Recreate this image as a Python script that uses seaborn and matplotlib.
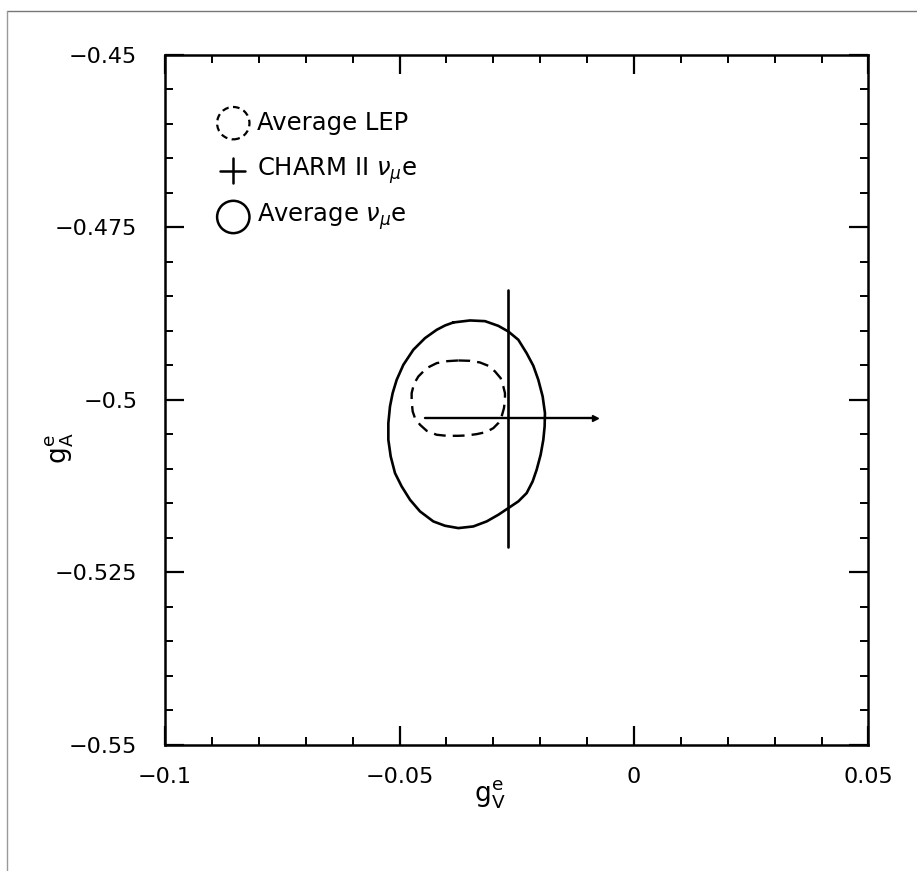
import numpy as np
import pandas as pd
import matplotlib
matplotlib.use("Agg")
import matplotlib.pyplot as plt
import seaborn as sns
from matplotlib.patches import Ellipse
from matplotlib.lines import Line2D

# ---- data ----
# Average nu_mu e contour (solid)
avg_nue_gv = [-0.03852, -0.03497, -0.03177, -0.02893, -0.02679, -0.02466, -0.02289, -0.02146,
              -0.02040, -0.01947, -0.01898, -0.01905, -0.01933, -0.01990, -0.02075, -0.02161,
              -0.02289, -0.02466, -0.02679, -0.02893, -0.03141, -0.03426, -0.03746, -0.04030,
              -0.04279, -0.04563, -0.04776, -0.04954, -0.05096, -0.05188, -0.05238, -0.05238,
              -0.05203, -0.05146, -0.05060, -0.04918, -0.04705, -0.04456, -0.04208, -0.04030]
avg_nue_ga = [-0.48879, -0.48850, -0.48860, -0.48928, -0.49010, -0.49130, -0.49324, -0.49507,
              -0.49710, -0.49952, -0.50193, -0.50386, -0.50580, -0.50797, -0.51014, -0.51184,
              -0.51353, -0.51473, -0.51570, -0.51667, -0.51763, -0.51836, -0.51860, -0.51826,
              -0.51763, -0.51618, -0.51449, -0.51256, -0.51063, -0.50821, -0.50580, -0.50338,
              -0.50097, -0.49903, -0.49710, -0.49493, -0.49275, -0.49106, -0.48986, -0.48923]
# Average LEP contour (dashed)
lep_gv = [-0.03746, -0.03497, -0.03284, -0.03106, -0.02964, -0.02843, -0.02786, -0.02751,
          -0.02751, -0.02772, -0.02822, -0.02893, -0.02999, -0.03156, -0.03355, -0.03568,
          -0.03746, -0.03994, -0.04208, -0.04421, -0.04563, -0.04670, -0.04719, -0.04741,
          -0.04741, -0.04691, -0.04598, -0.04421, -0.04208, -0.03980]
lep_ga = [-0.49430, -0.49435, -0.49459, -0.49507, -0.49589, -0.49686, -0.49807, -0.49903,
          -0.50000, -0.50121, -0.50242, -0.50338, -0.50411, -0.50469, -0.50498, -0.50517,
          -0.50522, -0.50522, -0.50507, -0.50449, -0.50362, -0.50266, -0.50169, -0.50024,
          -0.49903, -0.49768, -0.49662, -0.49541, -0.49469, -0.49440]
# CHARM II cross: centre and asymmetric errors
charm_gv = -0.0269
charm_ga = -0.5026
charm_gv_err = [0.0177, 0.0186]   # minus, plus
charm_ga_err = [0.0187, 0.0185]   # minus, plus

legend_labels = ["Average LEP", r"CHARM II $\nu_\mu$e", r"Average $\nu_\mu$e"]
xticks = [-0.1, -0.05, 0, 0.05]
xticklabels = ["\u22120.1", "\u22120.05", "0", "0.05"]
yticks = [-0.55, -0.525, -0.5, -0.475, -0.45]
yticklabels = ["\u22120.55", "\u22120.525", "\u22120.5", "\u22120.475", "\u22120.45"]

sns.set_theme(style="white")
plt.rcParams["font.family"] = ["DejaVu Sans"]
plt.rcParams["mathtext.fontset"] = "dejavusans"

fig = plt.figure(figsize=(9.17, 8.71), dpi=100)
ax = fig.add_axes([0.180, 0.145, 0.767, 0.792])

def closed(a):
    return list(a) + [a[0]]

df_nue = pd.DataFrame({"gv": closed(avg_nue_gv), "ga": closed(avg_nue_ga)})
df_lep = pd.DataFrame({"gv": closed(lep_gv), "ga": closed(lep_ga)})

sns.lineplot(data=df_nue, x="gv", y="ga", sort=False, estimator=None, ax=ax,
             color="black", lw=1.9)
sns.lineplot(data=df_lep, x="gv", y="ga", sort=False, estimator=None, ax=ax,
             color="black", lw=1.7, linestyle=(0, (5, 3)))

# CHARM II cross
ax.plot([charm_gv, charm_gv], [charm_ga - charm_ga_err[0], charm_ga + charm_ga_err[1]],
        color="black", lw=1.9)
ax.plot([charm_gv - charm_gv_err[0], charm_gv + charm_gv_err[1]], [charm_ga, charm_ga],
        color="black", lw=1.7)
ax.plot([charm_gv + charm_gv_err[1]], [charm_ga], marker=">", ms=4, color="black")

ax.set_xlim(-0.1, 0.05)
ax.set_ylim(-0.55, -0.45)
ax.set_xticks(xticks)
ax.set_xticklabels(xticklabels)
ax.set_yticks(yticks)
ax.set_yticklabels(yticklabels)
ax.set_xticks(np.arange(-0.1, 0.0501, 0.01), minor=True)
ax.set_yticks(np.arange(-0.55, -0.4499, 0.005), minor=True)
ax.tick_params(which="both", direction="in", top=True, right=True, bottom=True, left=True,
               color="black", labelsize=16, labelcolor="black")
ax.tick_params(which="major", length=14, width=1.6)
ax.tick_params(which="minor", length=6, width=1.4)
ax.tick_params(axis="y", which="major", pad=20)
ax.tick_params(axis="x", which="major", pad=16)
for s in ax.spines.values():
    s.set_color("black")
    s.set_linewidth(1.8)

ax.set_xlabel(r"g$_{\rm V}^{\rm e}$", fontsize=19, color="black", va="center")
ax.set_ylabel(r"g$_{\rm A}^{\rm e}$", fontsize=19, color="black", va="center")
ax.xaxis.set_label_coords(0.462, -0.072)
ax.yaxis.set_label_coords(-0.150, 0.43)

# legend drawn in axes coordinates
bbox = ax.get_position()
fw, fh = fig.get_size_inches()
aspect = (bbox.width * fw) / (bbox.height * fh)
r = 0.023
ax.add_patch(Ellipse((0.097, 0.901), 2 * r, 2 * r * aspect, transform=ax.transAxes,
                     fill=False, ec="black", lw=1.6, ls=(0, (3, 2))))
ax.add_line(Line2D([0.078, 0.114], [0.832, 0.832], transform=ax.transAxes, color="black", lw=1.8))
ax.add_line(Line2D([0.096, 0.096], [0.814, 0.850], transform=ax.transAxes, color="black", lw=1.8))
ax.add_patch(Ellipse((0.097, 0.765), 2 * r, 2 * r * aspect, transform=ax.transAxes,
                     fill=False, ec="black", lw=1.8))
for yy, lab in zip([0.901, 0.832, 0.765], legend_labels):
    ax.text(0.131, yy, lab, transform=ax.transAxes, fontsize=17.5, va="center", ha="left",
            color="black")

# scan border (top and left)
fig.add_artist(Line2D([7 / 917, 1.0], [1 - 11 / 871, 1 - 11 / 871], transform=fig.transFigure,
                      color="#777777", lw=1.0))
fig.add_artist(Line2D([7 / 917, 7 / 917], [0.0, 1 - 11 / 871], transform=fig.transFigure,
                      color="#999999", lw=1.0))

fig.savefig("out.png", dpi=100, facecolor="white")
